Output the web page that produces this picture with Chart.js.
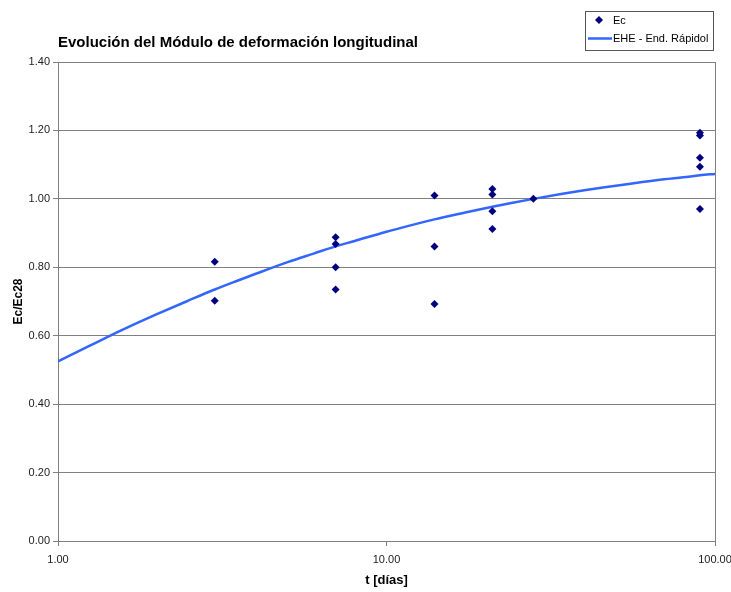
<!DOCTYPE html>
<html>
<head>
<meta charset="utf-8">
<script src="https://cdn.jsdelivr.net/npm/chart.js@4.4.1/dist/chart.umd.min.js"></script>
<style>
    html, body { margin: 0; padding: 0; background: #ffffff; }
    #wrap { width: 731px; height: 592px; position: relative; }
</style>
</head>
<body>
<div id="wrap"><canvas id="chart" width="731" height="592"></canvas></div>
<script>
// measured data (age in days, Ec / Ec28)
const testAges = [3, 3, 7, 7, 7, 7, 14, 14, 14, 21, 21, 21, 21, 28, 90, 90, 90, 90, 90];
const testRatios = [0.816, 0.702, 0.888, 0.868, 0.800, 0.735, 1.010, 0.861, 0.693, 1.029, 1.013, 0.964, 0.912, 1.000, 1.193, 1.185, 1.120, 1.094, 0.970];

// EHE curve, rapid hardening cement
const curveAges = [1, 1.25, 1.5, 1.75, 2, 2.5, 3, 3.5, 4, 5, 6, 7, 8, 10, 12, 14, 17, 21, 24, 28, 34, 40, 48, 56, 70, 80, 90, 100];
const curveRatios = [0.525, 0.571, 0.608, 0.638, 0.663, 0.703, 0.735, 0.760, 0.781, 0.815, 0.840, 0.861, 0.877, 0.904, 0.924, 0.940, 0.958, 0.977, 0.988, 1.000, 1.014, 1.025, 1.036, 1.045, 1.057, 1.063, 1.069, 1.073];

const xTicks = [1, 10, 100];
const xTickLabels = ['1.00', '10.00', '100.00'];
const yTickLabels = ['0.00', '0.20', '0.40', '0.60', '0.80', '1.00', '1.20', '1.40'];

const chartTitle = 'Evolución del Módulo de deformación longitudinal';
const seriesNames = ['Ec', 'EHE - End. Rápidol'];

const FONT = "'Liberation Sans', Arial, sans-serif";
const GRID = '#808080';
const NAVY = '#000080';
const BLUE = '#3366ff';

function toPoints(xs, ys) {
    return xs.map(function (x, i) {
        return { x: x, y: ys[i] };
    });
}

// title, legend box and right frame line
const decorPlugin = {
    id: 'decor',
    afterDraw: function (chart) {
        const ctx = chart.ctx;
        const area = chart.chartArea;
        ctx.save();

        ctx.strokeStyle = GRID;
        ctx.lineWidth = 1;
        ctx.beginPath();
        ctx.moveTo(Math.round(area.right) + 0.5, area.top);
        ctx.lineTo(Math.round(area.right) + 0.5, area.bottom);
        ctx.stroke();

        ctx.fillStyle = '#000000';
        ctx.font = 'bold 15px ' + FONT;
        ctx.textAlign = 'left';
        ctx.textBaseline = 'middle';
        ctx.fillText(chartTitle, 58, 43);

        // legend
        ctx.fillStyle = '#ffffff';
        ctx.fillRect(585, 11, 128, 39);
        ctx.strokeStyle = '#555555';
        ctx.strokeRect(585.5, 11.5, 128, 39);

        ctx.fillStyle = NAVY;
        ctx.beginPath();
        ctx.moveTo(599, 16);
        ctx.lineTo(603, 20);
        ctx.lineTo(599, 24);
        ctx.lineTo(595, 20);
        ctx.closePath();
        ctx.fill();

        ctx.strokeStyle = BLUE;
        ctx.lineWidth = 2.5;
        ctx.beginPath();
        ctx.moveTo(588, 38.5);
        ctx.lineTo(612, 38.5);
        ctx.stroke();

        ctx.fillStyle = '#000000';
        ctx.font = '11px ' + FONT;
        ctx.fillText(seriesNames[0], 613, 21);
        ctx.fillText(seriesNames[1], 613, 39);
        ctx.restore();
    },
};

new Chart(document.getElementById('chart'), {
    type: 'scatter',
    data: {
        datasets: [
            {
                label: seriesNames[0],
                data: toPoints(testAges, testRatios),
                pointStyle: 'rectRot',
                pointRadius: 4,
                backgroundColor: NAVY,
                borderColor: NAVY,
                borderWidth: 0,
                order: 0,
            },
            {
                label: seriesNames[1],
                type: 'line',
                data: toPoints(curveAges, curveRatios),
                borderColor: BLUE,
                borderWidth: 2.5,
                pointRadius: 0,
                fill: false,
                cubicInterpolationMode: 'monotone',
                order: 1,
            },
        ],
    },
    options: {
        responsive: false,
        animation: false,
        layout: { padding: { left: 0, right: 16, top: 62, bottom: 0 } },
        plugins: {
            legend: { display: false },
            tooltip: { enabled: false },
        },
        scales: {
            x: {
                type: 'logarithmic',
                min: 1,
                max: 100,
                afterBuildTicks: function (scale) {
                    scale.ticks = xTicks.map(function (v) {
                        return { value: v };
                    });
                },
                afterFit: function (scale) {
                    scale.height = 51;
                    scale.paddingLeft = 0;
                    scale.paddingRight = 0;
                },
                ticks: {
                    autoSkip: false,
                    maxRotation: 0,
                    padding: 7,
                    color: '#222222',
                    font: { family: FONT, size: 11 },
                    callback: function (value) {
                        const i = xTicks.indexOf(value);
                        return i >= 0 ? xTickLabels[i] : '';
                    },
                },
                grid: { drawOnChartArea: false, tickLength: 5, color: GRID },
                border: { color: GRID, width: 1 },
                title: {
                    display: true,
                    text: 't [días]',
                    color: '#000000',
                    font: { family: FONT, size: 13, weight: 'bold' },
                    padding: { top: 0, bottom: 4 },
                },
            },
            y: {
                min: 0,
                max: 1.4,
                afterFit: function (scale) {
                    scale.width = 58;
                    scale.paddingTop = 0;
                    scale.paddingBottom = 0;
                },
                ticks: {
                    stepSize: 0.2,
                    padding: 3,
                    color: '#222222',
                    font: { family: FONT, size: 11 },
                    callback: function (value, index) {
                        return yTickLabels[index];
                    },
                },
                grid: { color: GRID, tickLength: 5 },
                border: { color: GRID, width: 1 },
                title: {
                    display: true,
                    text: 'Ec/Ec28',
                    color: '#000000',
                    font: { family: FONT, size: 12, weight: 'bold' },
                    padding: { top: 11, bottom: 0 },
                },
            },
        },
    },
    plugins: [decorPlugin],
});
</script>
</body>
</html>
